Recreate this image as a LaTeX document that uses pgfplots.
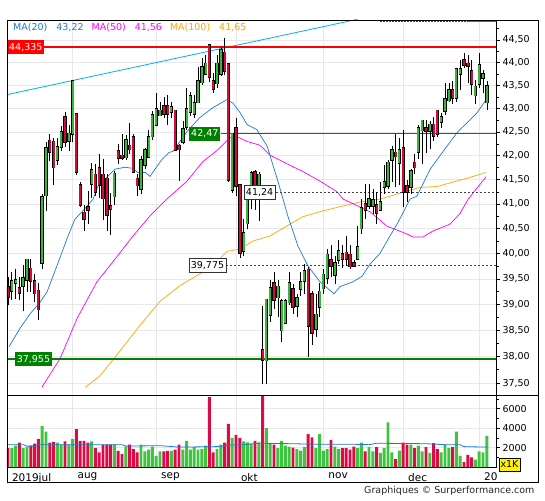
\documentclass[border=0pt]{standalone}
\usepackage{pgfplots}
\pgfplotsset{compat=1.18}
\usepackage{pgfplotstable}
\usepackage{fontspec}
\setmainfont{DejaVu Sans}
\definecolor{cG}{RGB}{55,185,55}
\definecolor{cR}{RGB}{215,10,60}
\definecolor{vG}{RGB}{64,195,64}
\definecolor{vR}{RGB}{220,10,70}
\definecolor{ma20}{RGB}{30,120,210}
\definecolor{ma50}{RGB}{255,0,255}
\definecolor{ma100}{RGB}{255,165,0}
\definecolor{trend}{RGB}{0,175,240}
\definecolor{gridc}{RGB}{232,232,232}
\definecolor{dgreen}{RGB}{0,128,0}

\pgfplotstableread{
x o c h l v
0 39.33 39.16 39.54 38.98 1950
1 39.28 39.44 39.64 39.08 1950
2 39.44 39.47 39.70 39.11 2200
3 39.31 39.24 39.53 39.08 2500
4 39.37 39.51 39.77 38.87 1950
5 39.50 39.87 39.90 39.24 2050
6 39.69 39.47 39.90 39.24 2200
7 39.44 39.23 39.60 39.05 2400
8 39.26 38.92 39.42 38.70 2900
9 39.83 41.13 41.20 39.69 4200
10 41.19 42.15 42.28 40.85 3650
11 42.30 42.10 42.45 41.89 2500
12 42.28 41.77 42.38 41.40 2600
13 41.93 42.17 42.38 41.80 2500
14 42.20 42.48 42.62 42.10 2300
15 42.80 42.31 42.92 42.19 2650
16 42.32 42.45 42.66 42.10 2300
17 42.47 43.58 43.62 42.28 2900
18 42.87 41.68 42.91 41.60 3900
19 41.38 40.99 41.45 40.93 2700
20 40.81 40.71 40.97 40.46 2700
21 40.92 40.90 41.26 40.59 2500
22 41.43 41.68 41.85 41.13 2650
23 41.59 41.26 41.83 41.17 1950
24 41.72 41.41 42.03 41.13 1500
25 41.59 41.13 41.93 40.68 2300
26 41.51 40.80 41.61 40.46 2300
27 40.94 40.92 41.23 40.37 2300
28 41.17 41.61 41.68 40.98 2300
29 42.08 41.97 42.24 41.83 1650
30 41.99 41.97 42.45 41.92 1350
31 41.98 42.31 42.43 41.92 2100
32 42.20 42.15 42.69 42.03 2300
33 42.38 41.68 42.46 41.65 1850
34 41.51 41.40 41.61 41.17 1500
35 41.32 41.89 41.99 41.20 2300
36 41.82 42.11 42.17 41.72 1600
37 41.99 42.38 42.55 41.95 1800
38 42.42 42.85 42.94 42.34 2100
39 42.66 42.98 43.33 42.62 1150
40 42.87 42.94 43.15 42.84 1600
41 43.04 42.91 43.26 42.80 1600
42 43.03 42.91 43.30 42.66 1650
43 42.94 43.01 43.15 42.80 1650
44 42.94 42.13 42.98 42.10 1800
45 42.20 42.15 42.24 41.47 2300
46 42.31 42.55 42.73 42.24 1800
47 42.62 42.98 43.44 42.55 2700
48 42.95 43.25 43.35 42.85 1800
49 42.90 43.10 43.30 42.80 2050
50 43.15 43.58 43.91 43.15 1800
51 43.58 43.88 44.10 43.51 1850
52 43.77 43.96 44.17 43.77 2200
53 44.37 43.70 44.41 43.58 7200
54 43.58 43.44 43.77 43.33 1500
55 43.56 43.96 44.17 43.44 1850
56 43.77 44.26 44.34 43.70 2300
57 44.20 43.84 44.54 43.73 2500
58 43.95 41.51 44.00 41.45 4450
59 41.30 42.45 42.48 41.23 3000
60 42.56 41.38 42.80 41.17 3300
61 41.38 40.02 41.38 39.92 3000
62 40.06 40.40 40.69 39.95 2650
63 40.62 41.10 41.30 40.49 2550
64 41.30 41.62 41.68 40.90 2400
65 41.65 41.30 41.70 40.87 2700
66 41.17 41.59 41.65 40.66 2550
67 38.10 37.95 38.96 37.49 7300
68 37.94 39.08 39.10 37.49 4000
69 38.82 39.31 39.47 38.66 2400
70 39.40 39.11 39.64 38.92 2300
71 39.15 39.34 39.47 38.76 1950
72 38.51 39.05 39.11 38.28 2700
73 38.66 39.05 39.11 38.63 2200
74 39.05 39.40 39.64 38.99 2100
75 39.28 38.96 39.40 38.82 2000
76 38.99 39.11 39.21 38.76 1850
77 39.32 39.43 39.64 39.17 1700
78 39.47 39.64 39.80 39.21 2050
79 39.67 38.60 39.74 37.99 3400
80 39.18 38.47 39.26 38.22 3050
81 38.54 38.79 39.21 38.37 1950
82 38.96 39.24 39.43 38.76 3400
83 39.33 39.57 39.70 39.21 1700
84 39.54 39.97 40.09 39.40 1850
85 39.86 39.78 40.16 39.54 2800
86 39.60 39.79 39.95 39.40 2100
87 39.90 40.03 40.27 39.80 1850
88 39.98 39.91 40.16 39.73 1950
89 40.00 39.92 40.36 39.76 1950
90 39.97 39.76 40.16 39.70 1800
91 39.79 39.77 39.88 39.74 2100
92 39.92 40.11 40.56 39.88 1950
93 40.52 40.90 41.10 40.39 2500
94 40.98 40.90 41.41 40.69 1600
95 40.97 41.09 41.41 40.90 2050
96 40.97 41.07 41.30 40.80 1600
97 40.97 40.83 41.25 40.60 2050
98 40.90 41.02 41.45 40.90 1450
99 41.36 41.43 41.80 41.20 1950
100 41.38 41.84 41.92 41.30 4600
101 41.93 42.10 42.20 41.45 1500
102 42.05 42.00 42.45 41.35 800
103 41.86 42.11 42.38 41.40 1700
104 42.15 41.26 42.55 40.93 2500
105 41.35 41.26 41.50 41.05 2300
106 41.36 41.66 41.72 41.20 2300
107 41.84 41.77 42.03 41.62 1950
108 42.10 42.56 42.66 41.93 2200
109 42.55 42.73 42.76 41.82 1600
110 42.57 42.54 42.76 42.05 2050
111 42.54 42.64 42.73 42.15 1450
112 42.64 42.43 42.82 42.32 2450
113 42.94 42.48 42.98 42.40 1850
114 42.73 42.80 42.90 42.58 1500
115 42.97 43.19 43.55 42.87 2300
116 43.19 43.38 43.55 43.15 1950
117 43.38 43.25 43.60 43.10 2050
118 43.25 43.84 43.88 43.15 3650
119 43.77 43.84 44.06 43.40 1150
120 44.04 43.97 44.20 43.88 500
121 43.96 43.94 44.17 43.55 1250
122 43.79 43.55 44.06 43.30 1000
123 43.30 43.46 43.62 43.10 750
124 43.55 43.93 44.20 43.45 1600
125 43.68 43.73 43.84 43.33 1500
126 43.15 43.47 43.60 42.98 3200
}\candles

\pgfplotsset{
  wick/.style={draw=none, no markers, forget plot,
    error bars/y dir=plus, error bars/y explicit, error bars/error mark=none,
    error bars/error bar style={draw=black, line width=0.6pt}},
  bodyk/.style={draw=none, no markers, forget plot,
    error bars/y dir=plus, error bars/y explicit, error bars/error mark=none,
    error bars/error bar style={draw=black, line width=3.4pt, line cap=rect}},
  bodyc/.style={draw=none, no markers, forget plot,
    error bars/y dir=plus, error bars/y explicit, error bars/error mark=none,
    error bars/error bar style={draw=#1, line width=1.9pt, line cap=rect}},
}

\begin{document}
\begin{tikzpicture}[x=1pt,y=1pt,font=\fontsize{9.5}{11}\selectfont]
\path[use as bounding box] (0,0) rectangle (545,500);
\begin{axis}[
  at={(7pt,105pt)}, anchor=south west,
  scale only axis, width=489pt, height=375pt,
  ymode=log, xmin=-0.263, xmax=128.42, ymin=37.276, ymax=44.946,
  axis line style={black, line width=0.8pt},
  xtick={17,39,60,83,104,124}, xticklabels={}, 
  ytick={37.5,38,38.5,39,39.5,40,40.5,41,41.5,42,42.5,43,43.5,44,44.5},
  yticklabels={{37,50},{38,00},{38,50},{39,00},{39,50},{40,00},{40,50},{41,00},{41,50},{42,00},{42,50},{43,00},{43,50},{44,00},{44,50}},
  minor ytick={37.75,38.25,38.75,39.25,39.75,40.25,40.75,41.25,41.75,42.25,42.75,43.25,43.75,44.25,44.75},
  ytick pos=right, yticklabel pos=right, tick align=outside,
  major tick length=4pt, minor tick length=3pt,
  x tick style={draw=none},
  y tick style={black, line width=0.6pt},
  xmajorgrids, ymajorgrids,
  grid style={gridc, line width=0.6pt},
  yticklabel style={text=black, xshift=-1pt},
  unbounded coords=jump,
]
% moving averages
\addplot[ma100, line width=0.7pt, forget plot] coordinates {
(20.3,37.42) (24.2,37.63) (29.5,38.11) (34.7,38.59) (40.0,39.06) (45.3,39.37) (50.5,39.60) (53.9,39.76) (57.6,40.04) (61.1,40.09) (64.5,40.25) (68.9,40.35) (74.2,40.59) (77.6,40.74) (82.9,40.86) (88.2,40.96) (92.6,41.04) (97.9,41.10) (103.9,41.24) (108.4,41.34) (112.9,41.36) (117.1,41.45) (121.6,41.55) (125.8,41.65)};
\addplot[ma50, line width=0.7pt, forget plot] coordinates {
(8.9,37.42) (13.7,37.96) (18.2,38.73) (23.4,39.44) (27.6,39.84) (32.9,40.35) (37.4,40.76) (41.8,41.10) (47.1,41.47) (51.3,41.88) (55.0,42.11) (58.4,42.38) (60.3,42.40) (62.9,42.30) (66.3,42.22) (69.0,42.01) (74.2,41.80) (77.6,41.67) (82.1,41.47) (86.6,41.25) (88.2,41.10) (95.3,40.84) (99.7,40.55) (105.0,40.39) (106.6,40.33) (109.2,40.33) (111.8,40.45) (116.3,40.59) (118.9,40.80) (121.1,41.10) (125.8,41.56)};
\addplot[ma20, line width=0.7pt, forget plot] coordinates {
(0.26,38.19) (3.2,38.54) (5.8,38.82) (8.4,39.04) (10.3,39.25) (12.9,39.76) (15.5,40.29) (17.6,40.69) (19.7,40.86) (22.4,41.10) (23.7,41.37) (28.2,41.72) (30.8,41.76) (32.6,41.74) (34.2,41.65) (36.1,41.65) (37.4,41.57) (38.7,41.72) (40.5,41.92) (42.4,42.07) (43.4,42.09) (47.1,42.51) (50.5,42.81) (53.9,43.02) (57.6,43.19) (59.2,43.12) (61.1,42.91) (62.9,42.66) (65.5,42.55) (68.2,42.20) (71.1,41.45) (73.7,40.74) (76.3,40.15) (78.9,39.76) (82.1,39.44) (85.8,39.21) (87.4,39.35) (90.8,39.44) (93.2,39.56) (95.3,39.80) (97.9,40.00) (100.5,40.35) (102.4,40.59) (105.8,41.10) (107.6,41.16) (111.1,41.72) (115.5,42.20) (118.2,42.49) (121.6,42.76) (123.4,42.91) (125.8,43.19)};
% trend line
\addplot[trend, line width=0.8pt, forget plot] coordinates {(-0.3,43.30) (92,44.96)};
% horizontal levels
\addplot[black!75, line width=0.6pt, dash pattern=on 2pt off 1pt, forget plot] coordinates {(97.9,44.915) (121,44.915)};
\addplot[black!60, line width=0.8pt, forget plot] coordinates {(121,44.915) (128.5,44.915)};
\addplot[red, line width=1.8pt, forget plot] coordinates {(-0.3,44.335) (128.5,44.335)};
\addplot[dgreen, line width=2pt, forget plot] coordinates {(-0.3,37.955) (128.5,37.955)};
\addplot[dgreen, line width=1pt, forget plot] coordinates {(56,42.47) (128.5,42.47)};
\addplot[black!75, line width=0.6pt, dash pattern=on 2pt off 2pt, forget plot] coordinates {(70.5,41.24) (128.5,41.24)};
\addplot[black!75, line width=0.6pt, dash pattern=on 2pt off 2pt, forget plot] coordinates {(57.4,39.775) (128.5,39.775)};
% wicks
\addplot[wick] table[x=x, y=l, y error expr=\thisrow{h}-\thisrow{l}] {\candles};
% bodies up
\addplot[bodyk, restrict expr to domain={\thisrow{c}-\thisrow{o}}{0:100}]
  table[x=x, y=o, y error expr=\thisrow{c}-\thisrow{o}] {\candles};
\addplot[bodyc=cG, restrict expr to domain={\thisrow{c}-\thisrow{o}}{0:100}]
  table[x=x, y=o, y error expr=\thisrow{c}-\thisrow{o}] {\candles};
% bodies down
\addplot[bodyk, restrict expr to domain={\thisrow{o}-\thisrow{c}}{0.00001:100}]
  table[x=x, y=c, y error expr=\thisrow{o}-\thisrow{c}] {\candles};
\addplot[bodyc=cR, restrict expr to domain={\thisrow{o}-\thisrow{c}}{0.00001:100}]
  table[x=x, y=c, y error expr=\thisrow{o}-\thisrow{c}] {\candles};
% anchor coordinates for labels
\coordinate (Lred) at (axis cs:-0.263,44.335);
\coordinate (Lg1) at (axis cs:6.7,37.955);
\coordinate (Lg2) at (axis cs:51.8,42.47);
\coordinate (Ld1) at (axis cs:66.2,41.24);
\coordinate (Ld2) at (axis cs:52.5,39.775);
\coordinate (Lleg) at (rel axis cs:0.0123,0.981);
\end{axis}

\begin{axis}[
  at={(7pt,33pt)}, anchor=south west,
  scale only axis, width=489pt, height=72pt,
  xmin=-0.263, xmax=128.42, ymin=0, ymax=7420,
  axis line style={black, line width=0.8pt},
  xtick={-0.263,17,39,60,83,104,124},
  xticklabels={2019jul,aug,sep,okt,nov,dec,20},
  xticklabel style={anchor=north west, xshift=1.5pt, yshift=1.5pt, text=black, font=\fontsize{10.5}{12}\selectfont},
  x tick style={draw=none},
  ytick={2000,4000,6000}, yticklabels={2000,4000,6000},
  minor ytick={1000,3000,5000,7000},
  scaled y ticks=false,
  ytick pos=right, yticklabel pos=right, tick align=outside,
  major tick length=4pt, minor tick length=3pt,
  y tick style={black, line width=0.6pt},
  yticklabel style={text=black, xshift=-1pt},
  xmajorgrids, ymajorgrids,
  grid style={gridc, line width=0.6pt},
]
\addplot[ybar, bar width=0.78, bar shift=0pt, fill=vG, draw=none, forget plot]
  table[x=x, y expr={\thisrow{c}>=\thisrow{o} ? \thisrow{v} : 0}] {\candles};
\addplot[ybar, bar width=0.78, bar shift=0pt, fill=vR, draw=none, forget plot]
  table[x=x, y expr={\thisrow{c}<\thisrow{o} ? \thisrow{v} : 0}] {\candles};
\addplot[ma20, line width=0.8pt, forget plot] coordinates {
(0,2300) (4,2300) (5,2150) (7,2150) (8,2300) (30,2300) (31,2150) (40,2200) (45,2050) (55,2100) (58,2250) (62,2300) (66,2450) (75,2400) (80,2350) (90,2350) (95,2300) (97,2450) (110,2400) (115,2300) (119,2300) (120,2100) (126,2050)};
\end{axis}

% level labels on top of everything
\node[fill=red, text=white, inner xsep=2pt, inner ysep=0pt, minimum height=14pt, anchor=west] at (Lred) {44,335};
\node[fill=dgreen, text=white, inner xsep=2pt, inner ysep=0pt, minimum height=14pt] at (Lg1) {37,955};
\node[fill=dgreen, text=white, inner xsep=2pt, inner ysep=0pt, minimum height=14pt] at (Lg2) {42,47};
\node[fill=white, draw=black!80, line width=0.6pt, text=black, inner xsep=2pt, inner ysep=0pt, minimum height=14pt] at (Ld1) {41,24};
\node[fill=white, draw=black!80, line width=0.6pt, text=black, inner xsep=2pt, inner ysep=0pt, minimum height=14pt] at (Ld2) {39,775};
\node[anchor=west, inner sep=0pt] at (Lleg) {\textcolor{ma20}{MA(20)\hspace{9pt}43,22}\hspace{8pt}\textcolor{ma50}{MA(50)\hspace{9pt}41,56}\hspace{8pt}\textcolor{ma100}{MA(100)\hspace{9pt}41,65}};

% frame
\draw[black, line width=0.8pt] (7,18) rectangle (538,480);
\draw[black, line width=0.8pt] (496,105) -- (538,105);
\node[fill=yellow, draw=black, line width=0.6pt, inner xsep=1.5pt, inner ysep=0pt, minimum height=13pt, text=black] at (509.5,35.5) {x1K};
\node[anchor=east, text=black!85] at (538,9) {Graphiques \textcopyright\ Surperformance.com};
\end{tikzpicture}
\end{document}
